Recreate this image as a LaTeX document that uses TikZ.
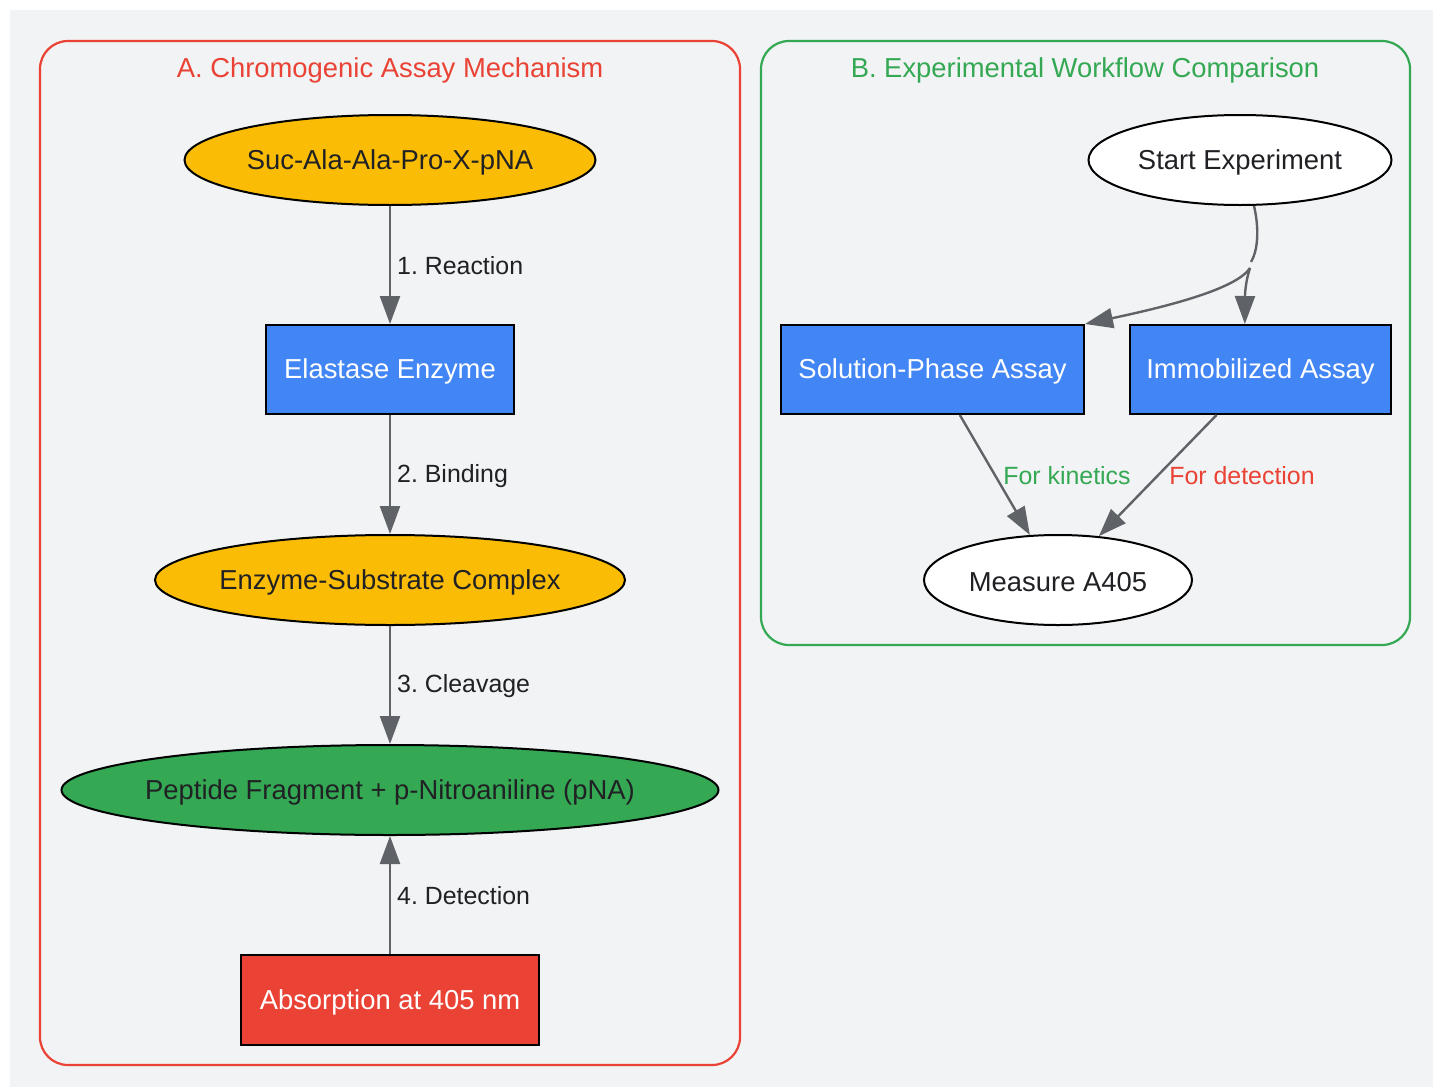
\documentclass[tikz,border=0pt]{standalone}
\usepackage{fontspec}
\setmainfont{Liberation Sans}
\usetikzlibrary{shapes.geometric,arrows.meta}
\definecolor{bg}{HTML}{F1F3F4}
\definecolor{gred}{HTML}{EA4335}
\definecolor{ggreen}{HTML}{34A853}
\definecolor{gblue}{HTML}{4285F4}
\definecolor{gyellow}{HTML}{FBBC05}
\definecolor{gtext}{HTML}{202124}
\definecolor{gedge}{HTML}{5F6368}
\newcommand{\zw}[1]{\makebox[0pt]{#1}}
\begin{document}
\frenchspacing
\begin{tikzpicture}[x=1pt,y=-1pt,
  nodefont/.style={font=\fontsize{27.4}{33}\selectfont},
  lblfont/.style={font=\fontsize{24.9}{30}\selectfont},
  ell/.style={ellipse,draw=black,line width=2pt,inner sep=0pt,nodefont,text=gtext},
  box/.style={rectangle,draw=black,line width=2pt,inner sep=0pt,nodefont,text=white,fill=gblue},
  cluster/.style={rounded corners=28pt,line width=2.2pt},
  edge/.style={draw=gedge,line width=2.4pt,-{Triangle[length=28pt,width=20pt]}},
  plain/.style={draw=gedge,line width=2.4pt},
  lbl/.style={lblfont,text=gtext,anchor=west,inner sep=0pt},
  tx/.style={yshift=-2pt},
]
\useasboundingbox (0,0) rectangle (1433,1087);
\fill[bg] (10,10) rectangle (1433,1087);
% clusters
\draw[cluster,draw=gred] (40,41) rectangle (740,1065);
\node[nodefont,text=gred,tx] (ta) at (390,68) {A. Chromogenic Assay Mechanism};
\draw[cluster,draw=ggreen] (761,41) rectangle (1410,645);
\node[nodefont,text=ggreen,tx] (tb) at (1085,68) {B. Experimental Workflow Comparison};
% A nodes
\node[ell,fill=gyellow,minimum width=411pt,minimum height=90pt] (suc) at (390,160) {};
\node[nodefont,text=gtext,tx] (suct) at (suc) {Suc-Ala-Ala-Pro-X-pNA};
\node[box,minimum width=248pt,minimum height=89pt] (ela) at (390,369.5) {};
\node[nodefont,text=white,tx] (elat) at (ela) {Elastase Enzyme};
\node[ell,fill=gyellow,minimum width=470pt,minimum height=90pt] (esc) at (390,580) {};
\node[nodefont,text=gtext,tx] (esct) at (esc) {Enzyme-Substrate Complex};
\node[ell,fill=ggreen,minimum width=657pt,minimum height=90pt] (pep) at (390,790) {};
\node[nodefont,text=gtext,tx] (pept) at (pep) {Peptide Fragment + p-Nitroaniline (pNA)};
\node[box,fill=gred,minimum width=298pt,minimum height=90pt] (abs) at (390,1000) {};
\node[nodefont,text=white,tx] (abst) at (abs) {Absorption at 405 nm};
% A edges
\draw[edge] (suc) -- (ela);
\node[lbl] (l1) at (397,266) {1. Reaction};
\draw[edge] (ela) -- (esc);
\node[lbl] (l2) at (397,476) {2. Binding};
\draw[edge] (esc) -- (pep);
\node[lbl] (l3) at (397,686) {3. Cleavage};
\draw[edge] (abs) -- (pep);
\node[lbl] (l4) at (397,896) {4. Detection};
% B nodes
\node[ell,fill=white,minimum width=303pt,minimum height=90pt] (st) at (1240,160) {};
\node[nodefont,text=gtext,tx] (stt) at (st) {Start Experiment};
\node[box,minimum width=303pt,minimum height=89pt] (sol) at (932.5,369.5) {};
\node[nodefont,text=white,tx] (solt) at (sol) {Solution-Phase Assay};
\node[box,minimum width=261pt,minimum height=89pt] (imm) at (1260.5,369.5) {};
\node[nodefont,text=white,tx] (immt) at (imm) {Immobilized Assay};
\node[ell,fill=white,minimum width=268pt,minimum height=90pt] (mea) at (1058,580) {};
\node[nodefont,text=gtext,tx] (meat) at (mea) {Measure A405};
% B edges
\coordinate (sp1) at (1251,262);
\coordinate (sp2) at (1250,268);
\draw[plain] (st.-73) .. controls (1260,232) and (1257,252) .. (sp1);
\draw[edge] (sp2) .. controls (1236,290) and (1160,308) .. (sol.north east);
\draw[edge] (sp2) .. controls (1246,280) and (1245,292) .. (imm.109);
\draw[edge] (sol.-59) -- (mea.122);
\node[lblfont,text=ggreen,inner sep=0pt] (lk) at (1067,476) {For kinetics};
\draw[edge] (imm.-134) -- (mea.47);
\node[lblfont,text=gred,inner sep=0pt] (ld) at (1242,476) {For detection};
\end{tikzpicture}
\end{document}
